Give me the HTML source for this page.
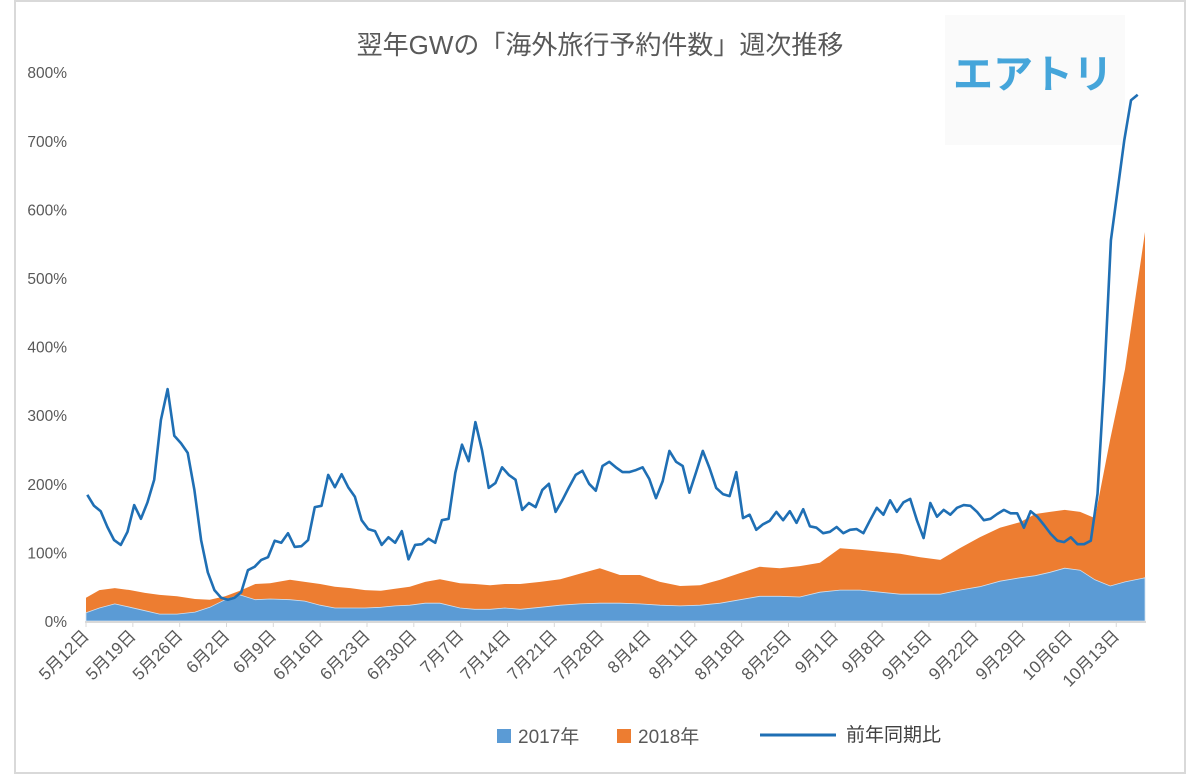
<!DOCTYPE html>
<html><head><meta charset="utf-8"><style>
html,body{margin:0;padding:0;background:#fff;}
svg{display:block;font-family:"Liberation Sans","Noto Sans CJK JP",sans-serif;}
</style></head><body>
<svg id="chart" width="1188" height="775">
<rect x="15" y="1" width="1170" height="772" fill="#fff" stroke="#d9d9d9" stroke-width="2"/>
<text x="600" y="54" text-anchor="middle" font-size="26" fill="#595959">翌年GWの「海外旅行予約件数」週次推移</text>
<rect x="945" y="15" width="180" height="130" fill="#fafafa"/>
<text x="1033" y="88" text-anchor="middle" font-size="40" font-weight="bold" fill="#45a5da">エアトリ</text>
<g id="areas"></g>
<g id="yaxis"></g>
<g id="xaxis"></g>
<g id="lineg"></g>
<g>
<rect x="497" y="729" width="14" height="14" fill="#5b9bd5"/>
<text x="518" y="743" font-size="19" fill="#595959">2017年</text>
<rect x="617" y="729" width="14" height="14" fill="#ed7d31"/>
<text x="638" y="743" font-size="19" fill="#595959">2018年</text>
<line x1="760" y1="735" x2="836" y2="735" stroke="#1f6fb4" stroke-width="3"/>
<text x="846" y="741" font-size="19" fill="#404040">前年同期比</text>
</g>
</svg>
<script>
const yTicks = [0,100,200,300,400,500,600,700,800];
const xTickLabels = ["5月12日","5月19日","5月26日","6月2日","6月9日","6月16日","6月23日","6月30日","7月7日","7月14日","7月21日","7月28日","8月4日","8月11日","8月18日","8月25日","9月1日","9月8日","9月15日","9月22日","9月29日","10月6日","10月13日"];
const areaDays = [0,2,4.3,6.6,8.8,11,13.6,16.3,18.5,20.8,23,25.3,27.5,30.5,32.7,35,37.2,39.5,41.7,44,46.2,48.4,50.7,52.9,55.9,58.1,60.4,62.6,64.9,67.9,70.9,73.8,76.8,79.8,82.8,85.8,88.8,91.8,94.8,97.8,100.7,103.7,106.7,109.7,112.7,115.7,118.7,121.7,124.7,127.7,130.6,133.6,136.6,139.6,141.9,144.1,146.3,148.6,150.8,153.1,155.3,158.3];
const series2017 = [12,19,25,20,15,10,10,13,20,31,38,31,32,31,29,23,19,19,19,20,22,23,26,26,19,17,17,19,17,20,23,25,26,26,25,23,22,23,26,31,36,36,35,42,45,45,42,39,39,39,45,50,58,63,66,71,77,74,60,51,57,63];
const series2018 = [34,45,48,45,41,38,36,32,31,36,44,54,55,60,57,54,50,48,45,44,47,50,57,61,55,54,52,54,54,57,61,69,77,67,67,57,51,52,60,70,79,77,80,85,106,104,101,98,93,89,106,122,136,144,156,159,162,159,150,265,367,567];
const yoy = [184,168,160,137,118,111,130,169,149,173,206,293,338,270,259,245,191,118,71,45,34,31,34,42,74,79,89,93,117,114,128,108,109,118,166,168,213,195,214,195,181,147,134,131,111,122,114,131,90,111,112,120,114,147,149,216,257,233,290,249,194,201,224,213,206,162,172,166,191,200,159,176,195,213,219,200,190,226,232,224,217,217,220,224,207,179,204,248,232,226,187,217,248,223,194,185,182,217,150,155,133,141,146,159,147,160,143,163,138,136,128,130,137,128,133,134,128,147,165,155,176,159,173,178,147,121,172,152,162,155,165,169,168,159,147,149,156,162,157,157,136,160,152,140,127,117,115,122,112,112,117,185,351,555,628,701,759,767];

const NS="http://www.w3.org/2000/svg";
const X0=86, DX=6.69, Y0=621, YK=0.686;
const xs=d=>X0+d*DX;
const ys=v=>Y0-v*YK;
function mk(tag,attrs,parent){const e=document.createElementNS(NS,tag);for(const k in attrs)e.setAttribute(k,attrs[k]);parent.appendChild(e);return e;}
const areas=document.getElementById('areas');
function areaPath(vals){let d=`M${xs(areaDays[0])},${Y0}`;vals.forEach((v,i)=>{d+=` L${xs(areaDays[i]).toFixed(1)},${ys(v).toFixed(1)}`;});d+=` L${xs(areaDays[areaDays.length-1])},${Y0} Z`;return d;}
const a18=mk('path',{d:areaPath(series2018),fill:'#ed7d31'},areas);


const a17=mk('path',{d:areaPath(series2017),fill:'#5b9bd5',stroke:'#cfe0f0','stroke-width':'0.8'},areas);


const ya=document.getElementById('yaxis');
yTicks.forEach(t=>{const e=mk('text',{x:67,y:ys(t)+6,'text-anchor':'end','font-size':'15.5',fill:'#595959'},ya);e.textContent=t+'%';

});
const xa=document.getElementById('xaxis');
const ax=mk('line',{x1:85,y1:Y0+1,x2:1146,y2:Y0+1,stroke:'#d9d9d9','stroke-width':'2'},xa);


xTickLabels.forEach((l,i)=>{const x=xs(i*7);
const tk=mk('line',{x1:x,y1:Y0+1,x2:x,y2:Y0+6,stroke:'#d9d9d9','stroke-width':'1'},xa);


const e=mk('text',{x:x+4,y:Y0+16,'text-anchor':'end','font-size':'17',fill:'#595959',transform:`rotate(-45 ${x+4} ${Y0+16})`},xa);e.textContent=l;

});
const lg=document.getElementById('lineg');
const pts=yoy.map((v,i)=>`${xs(i+0.2).toFixed(1)},${ys(v).toFixed(1)}`).join(' ');
const pl=mk('polyline',{points:pts,fill:'none',stroke:'#1f6fb4','stroke-width':'2.6','stroke-linejoin':'round'},lg);


</script>
</body></html>
